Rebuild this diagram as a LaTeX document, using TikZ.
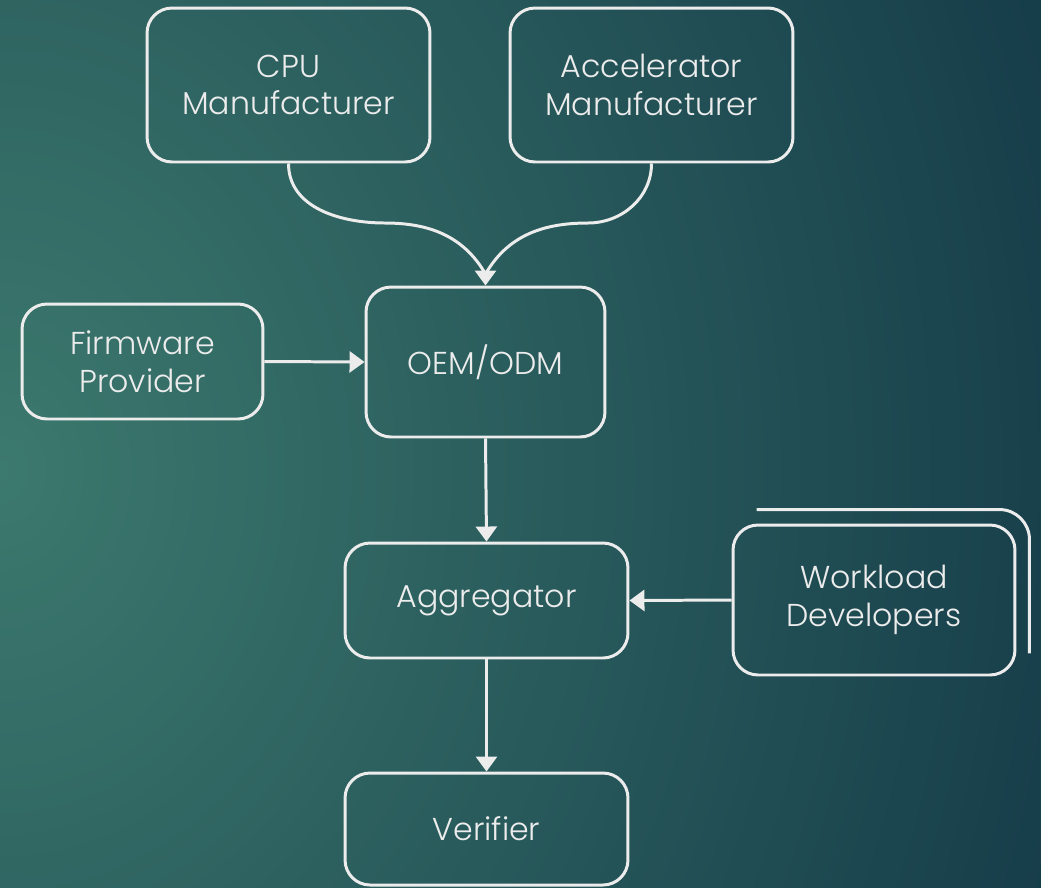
\documentclass[tikz,border=0pt]{standalone}
\usepackage{fontspec}
\setmainfont{Poppins}[UprightFont={* Light}]
\usetikzlibrary{arrows.meta,positioning}
\definecolor{bgA}{HTML}{3C796E}
\definecolor{bgB}{HTML}{113545}
\definecolor{ink}{HTML}{ECECEC}
\pgfdeclareradialshading{bgshade}{\pgfpoint{0bp}{0bp}}{color(0bp)=(bgA); color(25bp)=(bgB); color(50bp)=(bgB)}
\tikzset{
  box/.style={draw=ink, line width=1.7pt, rounded corners=0.5cm, align=center,
    text=ink, font=\fontsize{18}{21.5}\selectfont, inner sep=0pt},
  conn/.style={draw=ink, line width=1.7pt, -{Triangle[width=0.42cm,length=0.3cm]}},
  wire/.style={draw=ink, line width=1.7pt},
}
\begin{document}
\begin{tikzpicture}[x=0.02cm,y=-0.02cm]
\useasboundingbox (0,0) rectangle (1041,887);
\begin{scope}
  \clip (0,0) rectangle (1041,887);
  \shade[shading=bgshade] (0,470) ellipse [x radius=25cm, y radius=30cm];
\end{scope}
\node[box, minimum width=5.66cm, minimum height=3.08cm] (cpu) at (288.5,85) {CPU\\Manufacturer};
\node[box, minimum width=5.66cm, minimum height=3.08cm] (acc) at (651.5,85) {Accelerator\\Manufacturer};
\node[box, minimum width=4.78cm, minimum height=3.0cm] (oem) at (485.5,362) {OEM/ODM};
\node[box, minimum width=4.82cm, minimum height=2.3cm] (fw) at (142.5,361.5) {Firmware\\Provider};
\node[box, minimum width=5.66cm, minimum height=2.3cm] (agg) at (486.5,600.5) {Aggregator};
\node[box, minimum width=5.64cm, minimum height=3.0cm] (work) at (874,600) {Workload\\Developers};
\node[box, minimum width=5.66cm, minimum height=2.24cm] (ver) at (486.5,829) {Verifier};
\draw[wire, rounded corners=0.6cm]
  ([xshift=0.5cm,yshift=0.28cm]work.north west) -| ([xshift=0.26cm,yshift=0.46cm]work.south east);
\coordinate (cl) at (385,223);
\coordinate (cr) at (588,223);
\coordinate (m) at (485.5,274);
\draw[wire] (cpu.south) to[out=-90,in=180] (cl) to[out=0,in=120] (m);
\draw[wire] (acc.south) to[out=-90,in=0] (cr) to[out=180,in=60] (m);
\draw[conn] (m) -- (oem.north);
\draw[conn] (fw.east) -- (oem.west);
\draw[conn] (oem.south) -- (agg.north);
\draw[conn] (work.west) -- (agg.east);
\draw[conn] (agg.south) -- (ver.north);
\end{tikzpicture}
\end{document}
